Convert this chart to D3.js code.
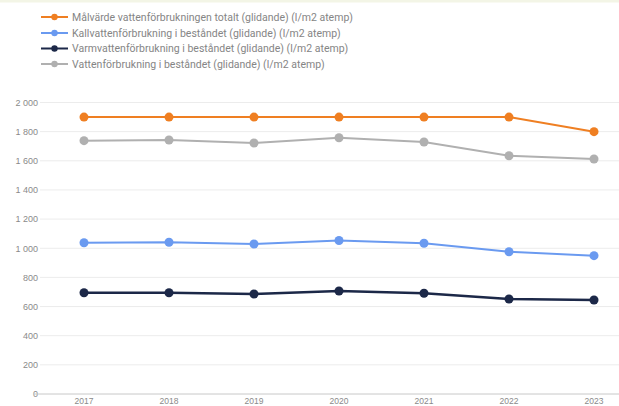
<!DOCTYPE html>
<html>
<head>
<meta charset="utf-8">
<script src="https://cdn.jsdelivr.net/npm/d3@7"></script>
<style>
  body { margin: 0; background: #fff; }
  svg { display: block; font-family: Roboto, "Open Sans", sans-serif; }
</style>
</head>
<body>
<div id="chart"></div>
<script>
// data
var years = ["2017", "2018", "2019", "2020", "2021", "2022", "2023"];
var malvarde = [1900, 1900, 1900, 1900, 1900, 1900, 1800];
var kallvatten = [1038, 1041, 1029, 1053, 1034, 976, 949];
var varmvatten = [695, 695, 686, 707, 691, 652, 645];
var vatten = [1738, 1743, 1722, 1758, 1729, 1635, 1612];
var yTicks = [0, 200, 400, 600, 800, 1000, 1200, 1400, 1600, 1800, 2000];

var seriesNames = [
  "Målvärde vattenförbrukningen totalt (glidande) (l/m2 atemp)",
  "Kallvattenförbrukning i beståndet (glidande) (l/m2 atemp)",
  "Varmvattenförbrukning i beståndet (glidande) (l/m2 atemp)",
  "Vattenförbrukning i beståndet (glidande) (l/m2 atemp)"
];
var seriesColors = ["#ef7f22", "#6a9af0", "#1c2848", "#b0b0b0"];
var seriesValues = [malvarde, kallvatten, varmvatten, vatten];

const W = 619, H = 406;

var svg = d3.select("#chart")
  .append("svg")
  .attr("width", W)
  .attr("height", H);

// thin tinted strip at the top
svg.append("rect")
  .attr("x", 0).attr("y", 0)
  .attr("width", W).attr("height", 2.5)
  .attr("fill", "#f3f5e6");

var x = d3.scaleBand()
  .domain(years)
  .range([41.5, 636.5]);

var y = d3.scaleLinear()
  .domain([0, 2000])
  .range([394, 102.5]);

var fmt = function(v) { return d3.format(",")(v).replace(",", " "); };

// grid
svg.append("g")
  .selectAll("line")
  .data(yTicks.slice(1))
  .enter()
  .append("line")
  .attr("x1", 40).attr("x2", W)
  .attr("y1", function(d) { return y(d); })
  .attr("y2", function(d) { return y(d); })
  .attr("stroke", "#ececec")
  .attr("stroke-width", 1);

// y axis labels
var yAxis = d3.axisLeft(y)
  .tickValues(yTicks)
  .tickFormat(fmt)
  .tickSize(0)
  .tickPadding(0);

svg.append("g")
  .attr("transform", "translate(38,0)")
  .call(yAxis)
  .call(function(g) { g.select(".domain").remove(); })
  .selectAll("text")
  .attr("fill", "#8a8a8a")
  .style("font-size", "9px");

// baseline
svg.append("line")
  .attr("x1", 33).attr("x2", W)
  .attr("y1", y(0)).attr("y2", y(0))
  .attr("stroke", "#c8c8c8")
  .attr("stroke-width", 1);

// x axis labels, tucked against the bottom edge
var xAxis = d3.axisBottom(x).tickSize(0).tickPadding(0);
svg.append("g")
  .attr("transform", "translate(0," + (y(0) + 4) + ")")
  .call(xAxis)
  .call(function(g) { g.select(".domain").remove(); })
  .selectAll("text")
  .attr("fill", "#8a8a8a")
  .style("font-size", "8.5px");

var line = d3.line()
  .x(function(d, i) { return x(years[i]) + x.bandwidth() / 2; })
  .y(function(d) { return y(d); });

// draw back to front: gray, navy, blue, orange
[3, 2, 1, 0].forEach(function(s) {
  var g = svg.append("g");
  g.append("path")
    .datum(seriesValues[s])
    .attr("fill", "none")
    .attr("stroke", seriesColors[s])
    .attr("stroke-width", s == 2 ? 2.5 : 2)
    .attr("d", line);
  g.selectAll("circle")
    .data(seriesValues[s])
    .enter()
    .append("circle")
    .attr("cx", function(d, i) { return x(years[i]) + x.bandwidth() / 2; })
    .attr("cy", function(d) { return y(d); })
    .attr("r", 4.5)
    .attr("fill", seriesColors[s]);
});

// legend
var legendY = [17, 33, 48.5, 64];
var legend = svg.append("g");
seriesNames.forEach(function(name, i) {
  var row = legend.append("g").attr("transform", "translate(0," + legendY[i] + ")");
  row.append("line")
    .attr("x1", 41).attr("x2", 68)
    .attr("stroke", seriesColors[i])
    .attr("stroke-width", 2);
  row.append("circle")
    .attr("cx", 54.5).attr("cy", 0).attr("r", 3.2)
    .attr("fill", seriesColors[i]);
  row.append("text")
    .attr("x", 72)
    .attr("dy", "0.35em")
    .attr("fill", "#858585")
    .style("font-size", "10.5px")
    .text(name);
});
</script>
</body>
</html>
